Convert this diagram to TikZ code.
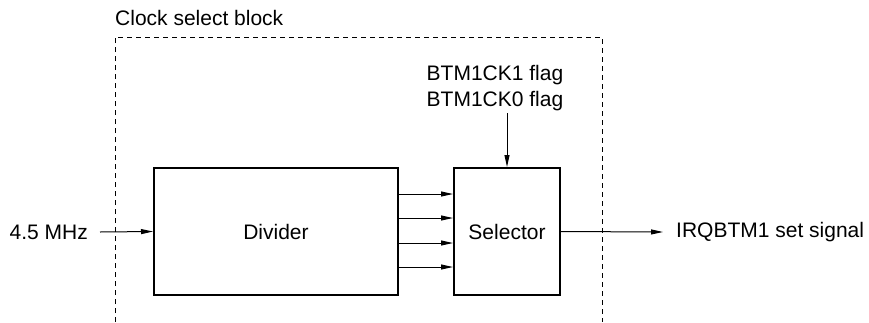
\documentclass[tikz,border=0pt]{standalone}
\usepackage{fontspec}
\setmainfont{Liberation Sans}
\usetikzlibrary{arrows.meta}
\begin{document}
\begin{tikzpicture}[x=1pt,y=-1pt,
  font=\fontsize{21}{26}\selectfont,
  blk/.style={draw,line width=2pt,minimum height=127pt,inner sep=0pt},
  sig/.style={line width=1pt,-{Triangle[length=12pt,width=5pt]}},
  lbl/.style={inner sep=0pt}]
\useasboundingbox (0,0) rectangle (869,322);
\draw[line width=1pt,dash pattern=on 5pt off 4pt] (115,322) -- (115,37) -- (602,37) -- (602,322);
\node[lbl,anchor=base west] (title) at (115,25) {Clock select block};
\node[blk,minimum width=244pt] (div) at (276,231.5) {Divider};
\node[blk,minimum width=106pt] (sel) at (507,231.5) {Selector};
\node[inner xsep=12pt,inner ysep=0pt,anchor=east] (in) at (100,232) {4.5 MHz};
\node[inner xsep=13pt,inner ysep=0pt,anchor=west] (out) at (663,232) {IRQBTM1 set signal};
\node[align=center,inner xsep=0pt,inner ysep=2pt,anchor=south] (flags) at (495,113) {BTM1CK1 flag\\BTM1CK0 flag};
\draw[sig] (in.east) -- (div.west);
\draw[sig] (sel.east) -- (out.west);
\draw[sig] (flags.south -| sel.north) -- (sel.north);
\foreach \yy in {194,218,243,267}
  \draw[sig] (div.east |- 0,\yy) -- (sel.west |- 0,\yy);
\end{tikzpicture}
\end{document}
